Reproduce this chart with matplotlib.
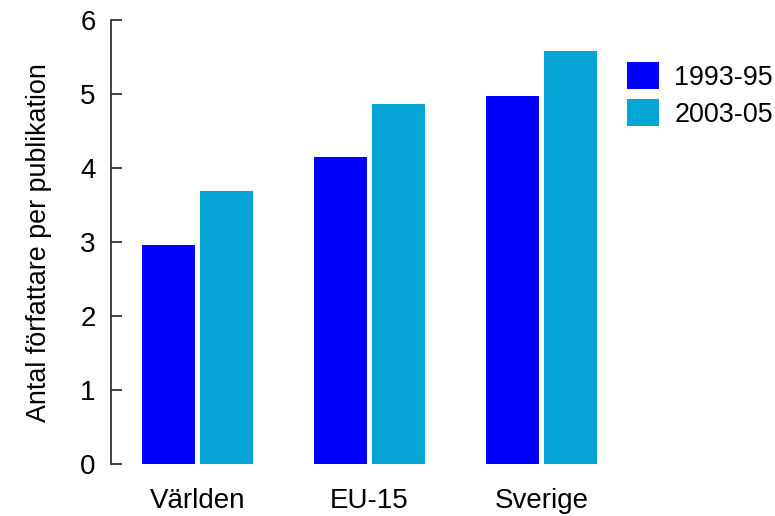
import matplotlib
matplotlib.use("Agg")
import matplotlib.pyplot as plt
import numpy as np

categories = ["Världen", "EU-15", "Sverige"]
series_names = ["1993-95", "2003-05"]
values_1993 = [2.96, 4.15, 4.98]
values_2003 = [3.69, 4.87, 5.58]
yticks = [0, 1, 2, 3, 4, 5, 6]
colors = ["#0000FF", "#05A5D6"]

plt.rcParams['font.family'] = ['Liberation Sans', 'DejaVu Sans']

fig = plt.figure(figsize=(7.75, 5.16), dpi=100)
ax = fig.add_axes([111/775, 1-464.3/516, (627.5-111)/775, (464.3-20)/516])

x = np.arange(len(categories))
w = 0.308
off = 0.167
ax.bar(x - off, values_1993, width=w, color=colors[0], label=series_names[0])
ax.bar(x + off, values_2003, width=w, color=colors[1], label=series_names[1])

ax.set_xlim(-0.503, 2.5)
ax.set_ylim(0, 6)
ax.set_yticks(yticks)
ax.set_yticklabels([str(t) for t in yticks])
ax.set_xticks(x)
ax.set_xticklabels(categories)

for s in ["top", "right", "bottom"]:
    ax.spines[s].set_visible(False)
ax.spines["left"].set_linewidth(1.2)
ax.spines["left"].set_color("#222222")
ax.tick_params(axis="y", direction="in", length=8, width=1.2, color="#222222", pad=11, labelsize=20)
ax.tick_params(axis="x", length=0, pad=17, labelsize=20)
ax.set_ylabel("Antal författare per publikation", fontsize=19.4, labelpad=20)

leg = fig.legend(loc="upper left", bbox_to_anchor=(627/775, 1-62/516), frameon=False,
                 fontsize=19.4, handlelength=1.18, handleheight=1.18, labelspacing=0.3,
                 handletextpad=0.58, borderpad=0, borderaxespad=0)

fig.savefig("out.png", dpi=100)
